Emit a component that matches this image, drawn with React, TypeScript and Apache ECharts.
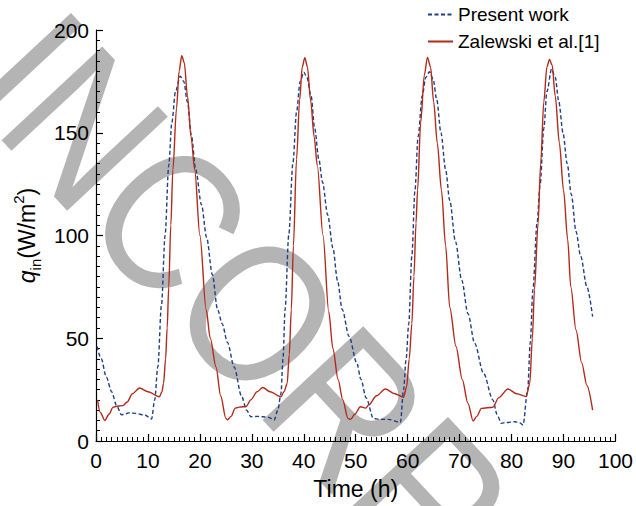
import React, { useEffect, useRef } from 'react';
import * as echarts from 'echarts';

const FONT = '"Liberation Sans", Arial, Helvetica, sans-serif';

// Present work (dashed blue): time (h) and q_in (W/m2)
const presentTime = [
  0.2, 1.0, 2.0, 3.0, 4.0, 4.9, 5.5, 6.5, 7.8, 9.5, 10.7, 11.3, 11.9, 12.6, 13.3, 14.0, 14.6, 15.3, 16.2, 16.9,
  17.6, 18.4, 19.2, 20.3, 21.3, 22.4, 23.4, 24.3, 25.3, 26.6, 28.0, 29.0, 29.8, 31.0, 32.1, 33.2, 34.3, 35.0, 35.6, 36.0,
  36.4, 37.1, 37.9, 38.6, 39.3, 40.0, 40.6, 41.4, 42.1, 42.9, 43.6, 44.6, 45.6, 46.5, 47.4, 48.7, 50.2, 51.0, 52.0, 53.4,
  54.5, 56.3, 58.6, 59.2, 59.7, 60.2, 60.8, 61.4, 62.0, 62.8, 63.5, 64.2, 64.9, 65.6, 66.4, 67.3, 68.1, 69.2, 70.4, 71.6,
  72.9, 74.6, 76.4, 77.2, 78.0, 79.0, 80.6, 81.5, 82.2, 83.1, 83.6, 84.1, 84.9, 85.5, 86.2, 86.8, 87.7, 88.4, 89.1, 89.9,
  90.7, 91.5, 92.4, 93.3, 94.5, 95.6,
];
const presentQ = [
  46, 40, 31, 24, 17, 12.8, 13, 13.8, 13.3, 12.5, 10.7, 20, 36, 66, 100, 134, 155, 170, 177.5, 175,
  165, 148, 132, 115, 99, 81, 64, 57, 48, 36, 22, 15, 11.8, 12, 11.8, 11.5, 10.2, 15, 23, 40,
  64, 100, 135, 160, 175, 179.5, 177, 168, 152, 137, 126, 110, 94, 78, 64, 51, 38, 30, 21, 11,
  10.5, 10.5, 9.1, 24.8, 40, 57, 90, 122, 148, 168, 177, 179.7, 176, 166, 150, 132, 117, 97, 78.3, 62,
  47.5, 33, 20, 13, 8.6, 9, 9.4, 9, 7.8, 24.8, 48, 73.5, 106, 125, 152, 170, 181, 177, 165, 150,
  135, 120, 102, 90, 75, 60.5,
];

// Zalewski et al.[1] (solid red)
const zalewskiTime = [
  0.3, 0.8, 1.7, 2.5, 3.3, 4.3, 5.2, 6.0, 7.0, 8.4, 10.0, 12.2, 12.7, 13.0, 13.4, 13.7, 14.0, 14.4, 14.8, 15.5,
  16.0, 16.5, 17.0, 17.6, 18.3, 19.0, 20.0, 21.2, 22.0, 23.1, 24.0, 25.0, 25.3, 26.0, 26.8, 27.6, 28.9, 29.8, 31.0, 32.1,
  33.5, 35.6, 36.2, 36.8, 37.2, 37.6, 38.0, 38.6, 39.2, 39.7, 40.2, 40.7, 41.3, 42.0, 42.6, 43.7, 44.8, 45.6, 46.6, 47.5,
  48.5, 49.0, 49.8, 50.9, 51.9, 52.5, 54.0, 55.7, 57.5, 59.2, 59.8, 60.3, 60.8, 61.2, 61.6, 61.9, 62.5, 63.2, 63.8, 64.4,
  65.0, 65.7, 66.5, 67.3, 68.1, 69.3, 70.5, 71.6, 72.6, 73.3, 74.2, 76.4, 77.5, 79.3, 81.0, 82.8, 83.5, 84.0, 84.4, 85.1,
  85.6, 86.2, 86.8, 87.3, 87.8, 88.4, 89.2, 90.0, 90.8, 91.4, 92.4, 93.5, 94.5, 95.6,
];
const zalewskiQ = [
  20, 14, 10, 13, 16.5, 17, 17.2, 19, 23, 25.8, 24, 21.5, 24, 28, 40, 55, 75, 105, 132, 162,
  180, 187.5, 184, 168, 148, 132, 100, 64, 50, 36, 22, 11, 10.3, 12, 16, 16.5, 16.8, 20, 24, 26,
  24, 21.5, 24, 28, 42, 64, 95, 137, 166, 182, 186.5, 182, 166, 148, 134, 100, 63, 45, 30, 20,
  11, 10.5, 13, 16.7, 16, 17.5, 22, 25.3, 23, 21.3, 26.4, 40, 57, 80, 106, 122, 155, 178, 186.7, 182,
  165, 145, 122, 95, 65, 46, 30, 18.3, 9.7, 12, 15.9, 16.4, 21, 25.3, 23, 21.6, 28, 50, 73.5, 106,
  135, 165, 182, 185.7, 183, 168, 145, 122, 98, 75, 54, 38, 27, 15,
];

const seriesNames = ['Present work', 'Zalewski et al.[1]'];
const watermark = 'INCORRECT';

export default function App() {
  const ref = useRef<HTMLDivElement>(null);
  useEffect(() => {
    const chart = echarts.init(ref.current!, null, { renderer: 'svg' });
    const pairs = (xs: number[], ys: number[]) => xs.map((x, i) => [x, ys[i]]);
    chart.setOption({
      animation: false,
      backgroundColor: '#ffffff',
      textStyle: { fontFamily: FONT },
      graphic: [
        {
          type: 'text',
          x: 10,
          y: 48,
          rotation: -47 * Math.PI / 180,
          scaleX: 0.86,
          scaleY: 1,
          z: -10,
          silent: true,
          style: {
            text: watermark,
            fontSize: 200,
            fontFamily: FONT,
            fill: '#b4b4b4',
            textAlign: 'left',
            textVerticalAlign: 'middle',
          },
        },
      ],
      grid: { left: 96, right: 18, top: 30, bottom: 65, containLabel: false },
      legend: {
        orient: 'vertical',
        left: 427,
        top: 5,
        padding: 0,
        itemWidth: 25,
        itemHeight: 14,
        itemGap: 8,
        itemStyle: { opacity: 0, borderWidth: 0 },
        textStyle: { fontSize: 19, fontFamily: FONT, color: '#000' },
        data: seriesNames,
      },
      xAxis: {
        type: 'value',
        min: 0,
        max: 100,
        interval: 10,
        name: 'Time (h)',
        nameLocation: 'middle',
        nameGap: 36,
        nameTextStyle: { fontSize: 23, fontFamily: FONT, color: '#000' },
        axisLine: { show: true, lineStyle: { color: '#000', width: 1.2 } },
        axisTick: { show: true, inside: true, length: 7, lineStyle: { color: '#000', width: 1.2 } },
        minorTick: { show: true, splitNumber: 10, length: 4, lineStyle: { color: '#000', width: 1 } },
        axisLabel: { fontSize: 21, fontFamily: FONT, color: '#000', margin: 9 },
        splitLine: { show: false },
      },
      yAxis: {
        type: 'value',
        min: 0,
        max: 200,
        interval: 50,
        name: '{q|q}{sub|in}{n|(W/m}{sup|2}{n|)}',
        nameLocation: 'middle',
        nameGap: 50,
        nameTextStyle: {
          fontSize: 23,
          fontFamily: FONT,
          color: '#000',
          rich: {
            q: { fontSize: 23, fontStyle: 'italic', fontFamily: FONT, color: '#000', lineHeight: 32 },
            n: { fontSize: 23, fontFamily: FONT, color: '#000', lineHeight: 32 },
            sub: { fontSize: 15, fontFamily: FONT, color: '#000', lineHeight: 15, verticalAlign: 'bottom' },
            sup: { fontSize: 15, fontFamily: FONT, color: '#000', lineHeight: 15, verticalAlign: 'top' },
          },
        },
        axisLine: { show: true, lineStyle: { color: '#000', width: 1.2 } },
        axisTick: { show: true, inside: true, length: 7, lineStyle: { color: '#000', width: 1.2 } },
        minorTick: { show: true, splitNumber: 10, length: 4, lineStyle: { color: '#000', width: 1 } },
        axisLabel: { fontSize: 21, fontFamily: FONT, color: '#000', margin: 7 },
        splitLine: { show: false },
      },
      series: [
        {
          name: seriesNames[0],
          type: 'line',
          data: pairs(presentTime, presentQ),
          symbol: 'none',
          smooth: 0.3,
          smoothMonotone: 'x',
          z: 3,
          lineStyle: { color: '#1d3f87', width: 1.4, type: [4, 2.5] },
          itemStyle: { color: '#1d3f87' },
        },
        {
          name: seriesNames[1],
          type: 'line',
          data: pairs(zalewskiTime, zalewskiQ),
          symbol: 'none',
          smooth: 0.3,
          smoothMonotone: 'x',
          z: 4,
          lineStyle: { color: '#b32a1a', width: 1.4, type: 'solid' },
          itemStyle: { color: '#b32a1a' },
        },
      ],
    });
    return () => chart.dispose();
  }, []);
  return <div ref={ref} style={{ position: 'fixed', left: 0, top: 0, width: 636, height: 506 }} />;
}
